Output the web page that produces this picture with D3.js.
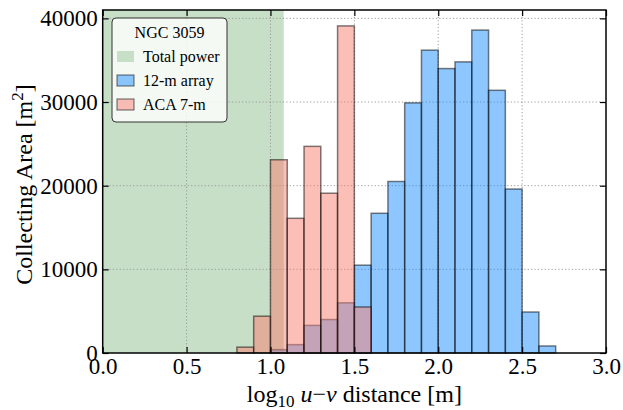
<!DOCTYPE html>
<html>
<head>
<meta charset="utf-8">
<script src="https://cdn.jsdelivr.net/npm/d3@7"></script>
<style>
  html, body { margin: 0; padding: 0; background: #fff; }
  svg { display: block; }
  text { font-family: "Liberation Serif", "DejaVu Serif", serif; fill: #000; }
</style>
</head>
<body>
<svg id="chart" width="623" height="410"></svg>
<script>
// ---- data ----
const binWidth = 0.1;
const acaBins = [0.8, 0.9, 1.0, 1.1, 1.2, 1.3, 1.4, 1.5];
const acaValues = [700, 4400, 23100, 16100, 24700, 19100, 39100, 5500];
const arrayBins = [1.0, 1.1, 1.2, 1.3, 1.4, 1.5, 1.6, 1.7, 1.8, 1.9, 2.0, 2.1, 2.2, 2.3, 2.4, 2.5, 2.6];
const arrayValues = [400, 1000, 3300, 4000, 6000, 10500, 16700, 20500, 29900, 36200, 34000, 34800, 38600, 31400, 19600, 4900, 840];
const totalPowerSpan = [0, 1.079];
const xTicks = [0.0, 0.5, 1.0, 1.5, 2.0, 2.5, 3.0];
const yTicks = [0, 10000, 20000, 30000, 40000];
const legendTitle = "NGC 3059";
const legendLabels = ["Total power", "12-m array", "ACA 7-m"];

(function () {
// ---- layout ----
const svg = d3.select("#chart");
const pLeft = 102.7, pRight = 606, pTop = 10, pBottom = 353;
const x = d3.scaleLinear().domain([0, 3]).range([pLeft, pRight]);
const y = d3.scaleLinear().domain([0, 41000]).range([pBottom, pTop]);

const green = "#c6dfc6";
const blue = "#1e90ff";
const salmon = "#fa8072";

// total power span
svg.append("rect")
  .attr("x", x(totalPowerSpan[0])).attr("y", pTop)
  .attr("width", x(totalPowerSpan[1]) - x(totalPowerSpan[0]))
  .attr("height", pBottom - pTop)
  .attr("fill", green);

// grid
const grid = svg.append("g").attr("stroke", "#9a9a9a").attr("stroke-width", 1).attr("stroke-dasharray", "1.2,2.2");
xTicks.slice(1, -1).forEach(t => grid.append("line").attr("x1", x(t)).attr("x2", x(t)).attr("y1", pTop).attr("y2", pBottom));
yTicks.slice(1).forEach(t => grid.append("line").attr("x1", pLeft).attr("x2", pRight).attr("y1", y(t)).attr("y2", y(t)));

// bars
function drawBars(bins, vals, color) {
  svg.append("g").selectAll("rect").data(bins.map((b, i) => ({b, v: vals[i]}))).join("rect")
    .attr("x", d => x(d.b))
    .attr("y", d => y(d.v))
    .attr("width", d => x(d.b + binWidth) - x(d.b))
    .attr("height", d => pBottom - y(d.v))
    .attr("fill", color).attr("fill-opacity", 0.5)
    .attr("stroke", "#000").attr("stroke-opacity", 0.5).attr("stroke-width", 1.5);
}
drawBars(arrayBins, arrayValues, blue);
drawBars(acaBins, acaValues, salmon);

// frame
svg.append("rect").attr("x", pLeft).attr("y", pTop).attr("width", pRight - pLeft).attr("height", pBottom - pTop)
  .attr("fill", "none").attr("stroke", "#000").attr("stroke-width", 1.5);

// axes with inward ticks
const tickLen = 6;
const axB = svg.append("g").attr("transform", `translate(0,${pBottom})`)
  .call(d3.axisBottom(x).tickValues(xTicks).tickFormat(d3.format(".1f")).tickSizeInner(-tickLen).tickSizeOuter(0));
const axT = svg.append("g").attr("transform", `translate(0,${pTop})`)
  .call(d3.axisTop(x).tickValues(xTicks).tickFormat("").tickSizeInner(-tickLen).tickSizeOuter(0));
const axL = svg.append("g").attr("transform", `translate(${pLeft},0)`)
  .call(d3.axisLeft(y).tickValues(yTicks).tickFormat(d3.format("d")).tickSizeInner(-tickLen).tickSizeOuter(0));
const axR = svg.append("g").attr("transform", `translate(${pRight},0)`)
  .call(d3.axisRight(y).tickValues(yTicks).tickFormat("").tickSizeInner(-tickLen).tickSizeOuter(0));
[axB, axT, axL, axR].forEach(a => {
  a.select(".domain").remove();
  a.selectAll(".tick line").attr("stroke", "#000").attr("stroke-width", 1.2);
  a.selectAll("text").attr("font-family", "Liberation Serif").attr("font-size", 23).attr("fill", "#000");
});
axB.selectAll("text").attr("dy", 0).attr("y", 21);
axL.selectAll("text").attr("x", -5).attr("dy", "0.33em");

// axis labels
const xl = svg.append("text").attr("x", (pLeft + pRight) / 2).attr("y", 402)
  .attr("text-anchor", "middle").attr("font-size", 24);
xl.append("tspan").text("log");
xl.append("tspan").attr("font-size", 17).attr("dy", 5).text("10");
xl.append("tspan").attr("dy", -5).text(" ");
xl.append("tspan").attr("font-style", "italic").text("u");
xl.append("tspan").text("\u2212");
xl.append("tspan").attr("font-style", "italic").text("v");
xl.append("tspan").text(" distance [m]");

const yl = svg.append("text").attr("transform", `translate(32,${(pTop + pBottom) / 2 + 3}) rotate(-90)`)
  .attr("text-anchor", "middle").attr("font-size", 24);
yl.append("tspan").text("Collecting Area [m");
yl.append("tspan").attr("font-size", 17).attr("dy", -9).text("2");
yl.append("tspan").attr("dy", 9).text("]");

// legend
const lg = svg.append("g");
lg.append("rect").attr("x", 112).attr("y", 18).attr("width", 115).attr("height", 104).attr("rx", 4)
  .attr("fill", "#fff").attr("fill-opacity", 0.8).attr("stroke", "#333").attr("stroke-width", 1);
lg.append("text").attr("x", 169.5).attr("y", 38).attr("text-anchor", "middle").attr("font-size", 16).text(legendTitle);
const rowY = [57, 81, 105];
const patchStyles = [
  {fill: green, op: 1, stroke: "none"},
  {fill: blue, op: 0.5, stroke: "#000"},
  {fill: salmon, op: 0.5, stroke: "#000"}
];
legendLabels.forEach((lab, i) => {
  const s = patchStyles[i];
  lg.append("rect").attr("x", 117).attr("y", rowY[i] - 6).attr("width", 17).attr("height", 11)
    .attr("fill", s.fill).attr("fill-opacity", s.op)
    .attr("stroke", s.stroke).attr("stroke-opacity", 0.5).attr("stroke-width", 1.2);
  lg.append("text").attr("x", 143).attr("y", rowY[i] + 5).attr("font-size", 16).text(lab);
});
})();
</script>
</body>
</html>
